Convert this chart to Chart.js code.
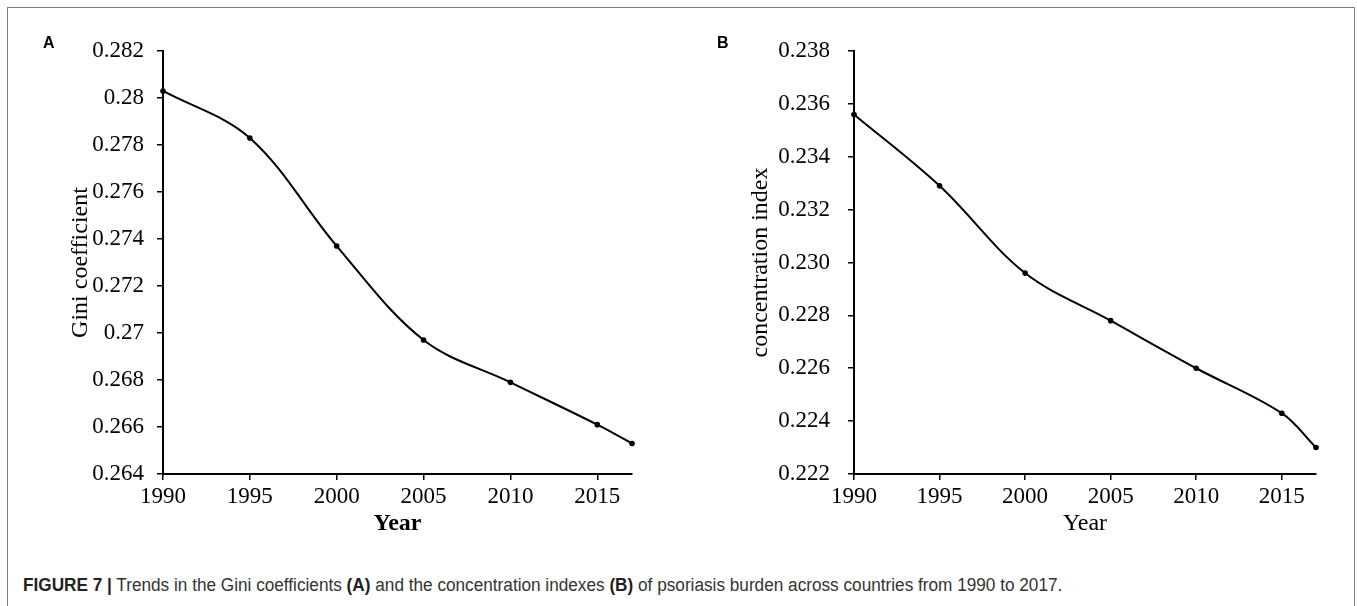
<!DOCTYPE html>
<html>
<head>
<meta charset="utf-8">
<script src="https://cdn.jsdelivr.net/npm/chart.js@4.4.1/dist/chart.umd.min.js"></script>
<style>
  body { margin: 0; background: #fff; width: 1357px; height: 606px; overflow: hidden; position: relative; }
  #frame { position: absolute; left: 7px; top: 7px; width: 1346px; height: 650px; border: 1.5px solid #808080; }
  .panel { position: absolute; top: 0; height: 560px; }
  #wrapA { left: 0; width: 680px; }
  #wrapB { left: 680px; width: 677px; }
  .tag { position: absolute; top: 35px; font: bold 16px "Liberation Sans", Arial, sans-serif; line-height: 16px; color: #000; }
  #caption { position: absolute; left: 23px; top: 575px; white-space: nowrap;
             font: 18px "Liberation Sans", Arial, sans-serif; color: #333;
             transform: scaleX(0.955); transform-origin: 0 0; }
  #caption b { color: #222; }
</style>
</head>
<body>
<div id="frame"></div>
<div class="panel" id="wrapA"><canvas id="chartA"></canvas></div>
<div class="panel" id="wrapB"><canvas id="chartB"></canvas></div>
<div class="tag" style="left:43px">A</div>
<div class="tag" style="left:717px">B</div>
<div id="caption"><b>FIGURE 7 |</b> Trends in the Gini coefficients <b>(A)</b> and the concentration indexes <b>(B)</b> of psoriasis burden across countries from 1990 to 2017.</div>

<script>
const years = [1990, 1995, 2000, 2005, 2010, 2015, 2017];
const giniValues = [0.2803, 0.2783, 0.2737, 0.2697, 0.2679, 0.2661, 0.2653];
const concValues = [0.2356, 0.2329, 0.2296, 0.2278, 0.2260, 0.2243, 0.2230];

const yearTicks = [1990, 1995, 2000, 2005, 2010, 2015];
const giniTicks = [0.264, 0.266, 0.268, 0.270, 0.272, 0.274, 0.276, 0.278, 0.280, 0.282];
const giniTickLabels = ["0.264", "0.266", "0.268", "0.27", "0.272", "0.274", "0.276", "0.278", "0.28", "0.282"];
const concTicks = [0.222, 0.224, 0.226, 0.228, 0.230, 0.232, 0.234, 0.236, 0.238];
const concTickLabels = ["0.222", "0.224", "0.226", "0.228", "0.230", "0.232", "0.234", "0.236", "0.238"];

const serif = "'Liberation Serif', 'Times New Roman', serif";

function makeChart(id, values, yTicks, yLabels, yTitle, opts){

    const ctx = document.getElementById(id);

    return new Chart(ctx, {
        type: "line",
        data: {
            datasets: [{
                data: years.map((y, i) => ({ x: y, y: values[i] })),
                borderColor: "#000",
                borderWidth: 2,
                backgroundColor: "#000",
                pointRadius: 2.8,
                pointBorderWidth: 0,
                tension: 0.35,
                fill: false,
                clip: false
            }]
        },
        options: {
            responsive: true,
            maintainAspectRatio: false,
            animation: false,
            events: [],
            layout: { padding: { top: 51, right: opts.padRight, bottom: 0, left: 0 } },
            plugins: { legend: { display: false }, tooltip: { enabled: false } },
            scales: {
                x: {
                    type: "linear",
                    min: 1990,
                    max: 2017,
                    afterBuildTicks: s => { s.ticks = yearTicks.map(v => ({ value: v })); },
                    afterFit: s => { s.height = 86; },
                    ticks: {
                        color: "#000",
                        font: { family: serif, size: 23 },
                        padding: 3,
                        maxRotation: 0,
                        autoSkip: false,
                        callback: (v, i) => String(yearTicks[i])
                    },
                    grid: { drawOnChartArea: false, tickLength: 6, color: "#000", lineWidth: 1.5 },
                    border: { color: "#000", width: 2 },
                    title: {
                        display: true,
                        text: "Year",
                        color: "#000",
                        font: { family: serif, size: 24, weight: opts.xBold ? "bold" : "normal" },
                        padding: { top: 0, bottom: 22 }
                    }
                },
                y: {
                    min: yTicks[0],
                    max: yTicks[yTicks.length - 1],
                    afterBuildTicks: s => { s.ticks = yTicks.map(v => ({ value: v })); },
                    afterFit: s => { s.width = opts.axisWidth; },
                    ticks: {
                        color: "#000",
                        font: { family: serif, size: 23 },
                        padding: opts.tickPad,
                        autoSkip: false,
                        callback: (v, i) => yLabels[i]
                    },
                    grid: { drawOnChartArea: false, tickLength: 6, color: "#000", lineWidth: 1.5 },
                    border: { color: "#000", width: 2 },
                    title: {
                        display: true,
                        text: yTitle,
                        color: "#000",
                        font: { family: serif, size: 24 },
                        padding: { top: 66, bottom: 0 }
                    }
                }
            }
        }
    });

}

makeChart("chartA", giniValues, giniTicks, giniTickLabels, "Gini coefficient",
    { padRight: 48, axisWidth: 163, tickPad: 13, xBold: true });

makeChart("chartB", concValues, concTicks, concTickLabels, "concentration index",
    { padRight: 41, axisWidth: 174, tickPad: 18, xBold: false });
</script>
</body>
</html>
